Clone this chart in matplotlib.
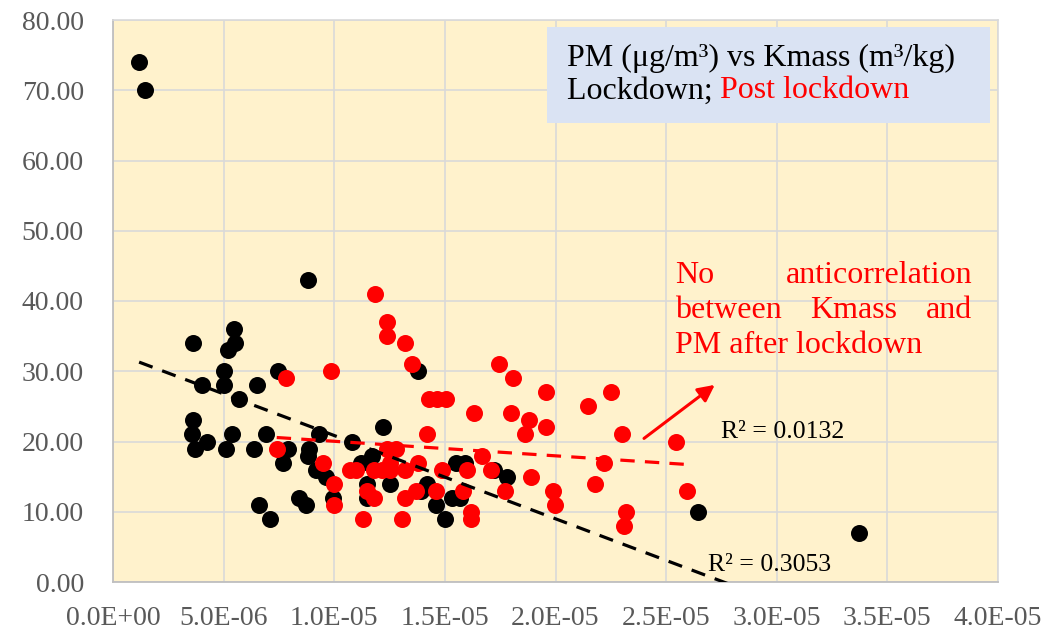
import numpy as np
import matplotlib
matplotlib.use("Agg")
import matplotlib.pyplot as plt
from matplotlib.patches import Rectangle
from matplotlib.ticker import FuncFormatter, MultipleLocator

plt.rcParams['font.family'] = ['Liberation Serif', 'DejaVu Serif']

# Kmass (x1e-6 m3/kg) and PM (ug/m3), lockdown
lock_x = [1.18, 1.45, 3.6, 3.63, 3.56, 3.7, 4.0, 4.23, 5.47, 5.5, 5.2, 5.03, 5.0,
          5.7, 6.5, 5.36, 5.1, 6.39, 6.92, 7.47, 7.9, 7.67, 6.6, 7.1, 8.83, 8.87,
          8.83, 9.33, 9.18, 9.63, 9.93, 8.42, 8.71, 10.8, 12.2, 11.7, 11.2, 12.5,
          11.5, 11.5, 13.8, 14.2, 13.9, 14.6, 15.0, 15.5, 15.9, 15.3, 15.7, 17.2,
          17.8, 26.45, 33.7]
lock_y = [74, 70, 34, 23, 21, 19, 28, 20, 36, 34, 33, 30, 28,
          26, 28, 21, 19, 19, 21, 30, 19, 17, 11, 9, 43, 19,
          18, 21, 16, 15, 12, 12, 11, 20, 22, 18, 17, 14,
          14, 12, 30, 14, 13, 11, 9, 17, 17, 12, 12, 16,
          15, 10, 7]

# post lockdown
post_x = [7.8, 9.87, 7.4, 9.48, 9.99, 10.0, 12.4, 12.8, 10.7, 11.0, 11.8, 12.5,
          13.2, 13.8, 11.5, 11.8, 11.3, 13.05, 13.2, 13.7, 11.84, 12.4, 12.4, 13.2,
          13.5, 14.26, 14.63, 15.07, 14.2, 16.3, 17.46, 18.07, 19.56, 17.98, 18.78,
          19.57, 18.6, 21.46, 22.5, 23.0, 25.45, 25.96, 14.6, 14.85, 16.0, 15.8,
          16.2, 16.2, 16.7, 17.1, 17.7, 18.88, 19.9, 20.0, 22.2, 21.8, 23.2, 23.1,
          12.15, 12.5]
post_y = [29, 30, 19, 17, 14, 11, 19, 19, 16, 16, 16, 17,
          16, 17, 13, 12, 9, 9, 12, 13, 41, 37, 35, 34,
          31, 26, 26, 26, 21, 24, 31, 29, 27, 24, 23,
          22, 21, 25, 27, 21, 20, 13, 13, 16, 16, 13,
          10, 9, 18, 16, 13, 15, 13, 11, 17, 14, 10, 8,
          16, 16]

lock_x = np.array(lock_x) * 1e-6
post_x = np.array(post_x) * 1e-6

# linear trendlines (slope, intercept) as shown on chart
lock_fit = (-1.185e6, 32.7)
post_fit = (-2.07e5, 22.1)

fig = plt.figure(figsize=(10.49, 6.41), dpi=100)
ax = fig.add_axes([113/1049, 1-582/641, (998-113)/1049, (582-20)/641])
ax.set_facecolor('#FFF2CC')
ax.set_axisbelow(True)

ax.scatter(lock_x, lock_y, s=150, color='black', zorder=3, linewidths=0)
ax.scatter(post_x, post_y, s=150, color='#FF0000', zorder=4, linewidths=0)

xl = np.array([lock_x.min(), lock_x.max()])
ax.plot(xl, lock_fit[0]*xl + lock_fit[1], color='black', lw=2.3,
        ls=(0, (4.5, 3.2)), zorder=5)
xp = np.array([post_x.min(), post_x.max()])
ax.plot(xp, post_fit[0]*xp + post_fit[1], color='#FF0000', lw=2.3,
        ls=(0, (4.5, 3.2)), zorder=5)

ax.set_xlim(0, 4e-5)
ax.set_ylim(0, 80)
ax.xaxis.set_major_locator(MultipleLocator(5e-6))
ax.yaxis.set_major_locator(MultipleLocator(10))
ax.xaxis.set_major_formatter(FuncFormatter(lambda v, p: f"{v:.1E}"))
ax.yaxis.set_major_formatter(FuncFormatter(lambda v, p: f"{v:.2f}"))
ax.grid(True, color='#D9D9D9', lw=1.2)
ax.tick_params(length=0, labelsize=20, labelcolor='#595959')
ax.tick_params(axis='x', pad=17)
ax.tick_params(axis='y', pad=21)
for s in ['left', 'bottom']:
    ax.spines[s].set_color('#BFBFBF')
    ax.spines[s].set_linewidth(1.3)
for s in ['top', 'right']:
    ax.spines[s].set_color('#D9D9D9')
    ax.spines[s].set_linewidth(1.2)

# title box
ax.add_patch(Rectangle((19.62e-6, 65.4), 20.03e-6, 13.55, facecolor='#DAE3F3',
                       edgecolor='none', zorder=6, clip_on=False))
ax.text(20.52e-6, 73.5, "PM (μg/m³) vs Kmass (m³/kg)", fontsize=23, va='baseline',
        zorder=7)
ax.text(20.52e-6, 68.85, "Lockdown; ", fontsize=23, va='baseline', zorder=7)
ax.text(27.44e-6, 68.85, "Post lockdown", fontsize=23, va='baseline',
        color='#FF0000', zorder=7)

# note
red = '#FF0000'
ax.text(25.4e-6, 42.5, "No", fontsize=23, color=red, va='baseline')
ax.text(38.83e-6, 42.5, "anticorrelation", fontsize=23, color=red, va='baseline', ha='right')
ax.text(25.4e-6, 37.55, "between", fontsize=23, color=red, va='baseline')
ax.text(31.5e-6, 37.55, "Kmass", fontsize=23, color=red, va='baseline')
ax.text(38.83e-6, 37.55, "and", fontsize=23, color=red, va='baseline', ha='right')
ax.text(25.4e-6, 32.6, "PM after lockdown", fontsize=23, color=red, va='baseline')
ax.annotate('', xy=(27.3e-6, 28.3), xytext=(23.9e-6, 20.2),
            arrowprops=dict(arrowstyle='-|>', color=red, lw=2.2, mutation_scale=25))

ax.text(27.5e-6, 20.5, "R² = 0.0132", fontsize=18.5, va='baseline', zorder=7)
ax.text(26.9e-6, 1.56, "R² = 0.3053", fontsize=18.5, va='baseline', zorder=7)

fig.savefig('out.png', dpi=100)
